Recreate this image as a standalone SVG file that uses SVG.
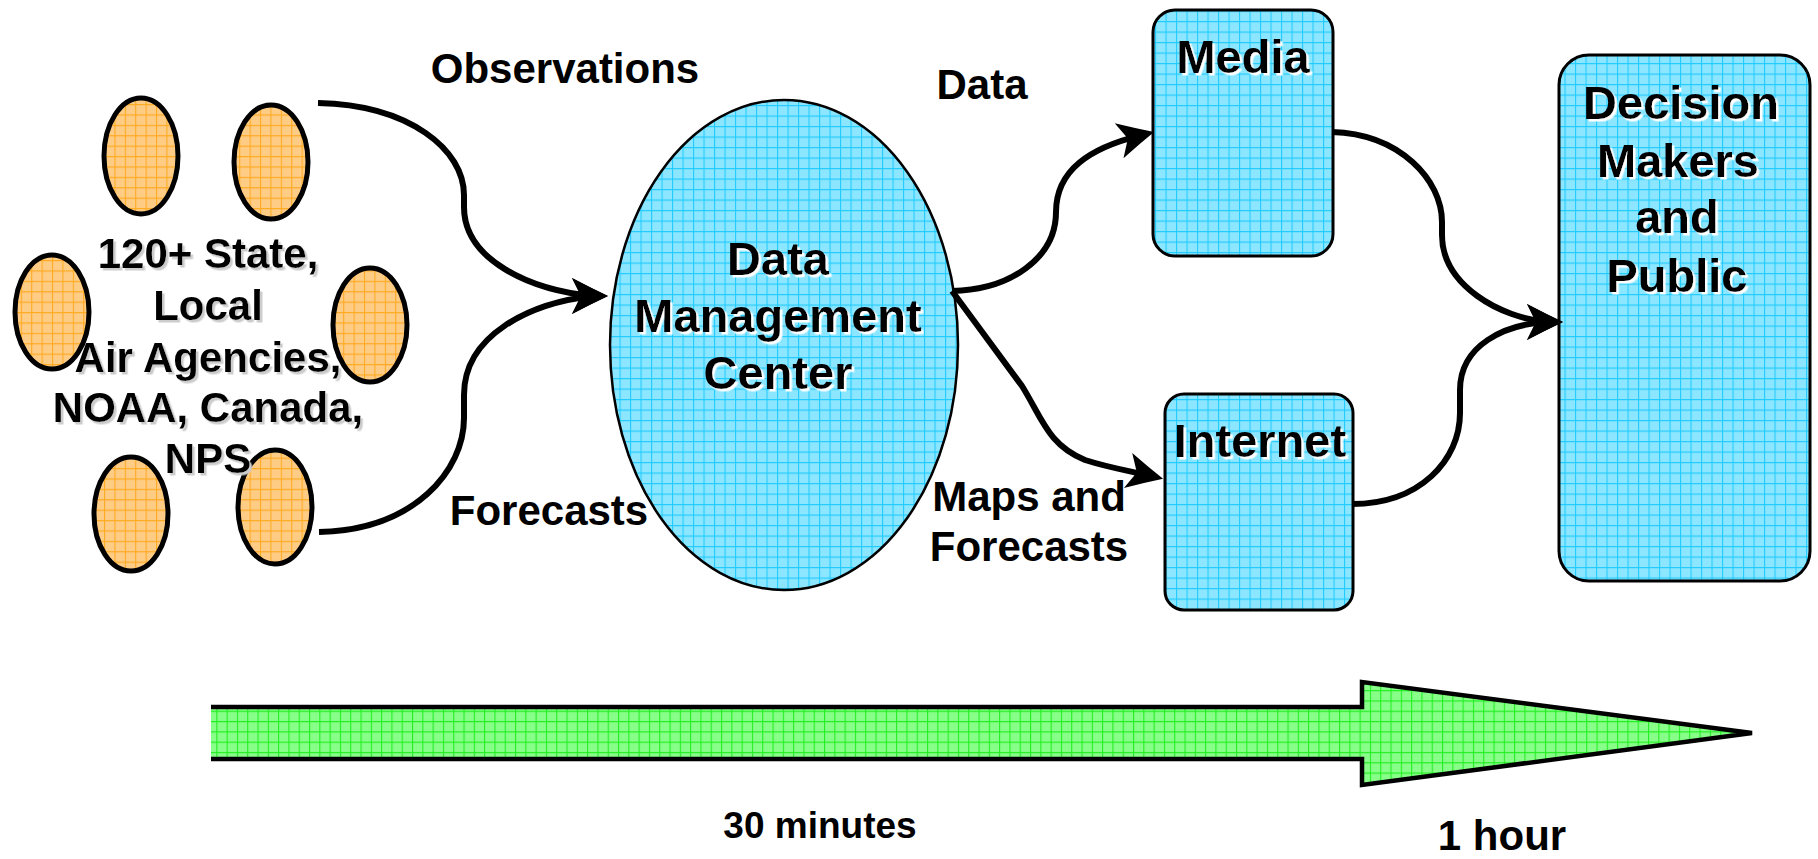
<svg xmlns="http://www.w3.org/2000/svg" width="1818" height="859" viewBox="0 0 1818 859">
<style>
text{font-family:"Liberation Sans",Arial,sans-serif;font-weight:bold;fill:#000;text-anchor:middle}
.lbl{font-size:42px}
.node{font-size:47px;filter:url(#shw)}
.src{font-size:42px;filter:url(#shg)}
.conn{fill:none;stroke:#000;stroke-width:6}
.orange{fill:url(#po);stroke:#000;stroke-width:5}
.blue{fill:url(#pb);stroke:#000;stroke-width:3}
</style>
<defs>
<pattern id="pb" patternUnits="userSpaceOnUse" width="10.5" height="10.5">
<rect width="10.5" height="10.5" fill="#8de6ff"/>
<path d="M0,0.5H10.5M0.5,0V10.5" stroke="#22ccff" stroke-width="1.2"/>
</pattern>
<pattern id="po" patternUnits="userSpaceOnUse" width="10.4" height="10.4">
<rect width="10.4" height="10.4" fill="#ffcc85"/>
<path d="M0,0.5H10.4M0.5,0V10.4" stroke="#ffaa22" stroke-width="1.2"/>
</pattern>
<pattern id="pg" patternUnits="userSpaceOnUse" width="10.3" height="10.3">
<rect width="10.3" height="10.3" fill="#88ff88"/>
<path d="M0,0.5H10.3M0.5,0V10.3" stroke="#22ee22" stroke-width="1.2"/>
</pattern>
<filter id="shw" x="-10%" y="-30%" width="120%" height="160%">
<feDropShadow dx="2.5" dy="2.5" stdDeviation="0" flood-color="#ffffff"/>
</filter>
<filter id="shg" x="-10%" y="-30%" width="120%" height="160%">
<feDropShadow dx="2.5" dy="2.5" stdDeviation="0" flood-color="#cccccc"/>
</filter>
<marker id="ahA" markerUnits="userSpaceOnUse" markerWidth="60" markerHeight="60" viewBox="-30 -30 60 60" refX="0" refY="0" orient="auto" overflow="visible">
<path d="M15,0 Q-2,-8 -21,-18 L-12,0 L-21,18 Q-2,8 15,0 Z" fill="#000"/>
</marker>
<marker id="ahF" markerUnits="userSpaceOnUse" markerWidth="60" markerHeight="60" viewBox="-30 -30 60 60" refX="0" refY="0" orient="0" overflow="visible">
<path d="M15,0 Q-2,-8 -21,-18 L-12,0 L-21,18 Q-2,8 15,0 Z" fill="#000"/>
</marker>
</defs>
<rect width="1818" height="859" fill="#fff"/>

<g id="sources">
<ellipse class="orange" cx="141" cy="156" rx="37" ry="58"/>
<ellipse class="orange" cx="271" cy="162" rx="37" ry="57"/>
<ellipse class="orange" cx="52" cy="312" rx="37" ry="57"/>
<ellipse class="orange" cx="370" cy="325" rx="37" ry="57"/>
<ellipse class="orange" cx="131" cy="514" rx="37" ry="57"/>
<ellipse class="orange" cx="275" cy="507" rx="37" ry="57"/>
<text class="src" x="208" y="268">120+ State,</text>
<text class="src" x="208" y="320">Local</text>
<text class="src" x="208" y="372">Air Agencies,</text>
<text class="src" x="208" y="422">NOAA, Canada,</text>
<text class="src" x="208" y="473">NPS</text>
</g>

<g id="dmc">
<ellipse cx="784" cy="345" rx="174" ry="245" fill="url(#pb)" stroke="#000" stroke-width="2.5"/>
<text class="node" x="778" y="275">Data</text>
<text class="node" x="778" y="332">Management</text>
<text class="node" x="778" y="389">Center</text>
</g>

<g id="media">
<rect class="blue" x="1153" y="10" width="180" height="246" rx="22"/>
<text class="node" x="1243" y="73">Media</text>
</g>

<g id="internet">
<rect class="blue" x="1165" y="394" width="188" height="216" rx="19"/>
<text class="node" x="1260" y="457">Internet</text>
</g>

<g id="decision">
<rect class="blue" x="1559" y="55" width="251" height="526" rx="30"/>
<text class="node" x="1681" y="119">Decision</text>
<text class="node" x="1678" y="177">Makers</text>
<text class="node" x="1677" y="233">and</text>
<text class="node" x="1677" y="292">Public</text>
</g>

<g id="connectors">
<path class="conn" d="M318,103 C410,105 464,150 464,195 L464,207 C464,260 530,290 593,296" marker-end="url(#ahF)"/>
<path class="conn" d="M319,532 C415,530 464,470 464,418 L464,395 C464,335 530,303 593,296" marker-end="url(#ahF)"/>
<path class="conn" d="M952,291 C1010,290 1056,258 1056,212 C1056,170 1090,148 1139.5,135.6" marker-end="url(#ahA)"/>
<path class="conn" d="M952,291 L1022,386 C1042,418 1048,445 1085,460 C1110,468 1130,471 1148.5,475.4" marker-end="url(#ahA)"/>
<path class="conn" d="M1332,132 C1400,134 1442,180 1442,222 L1442,235 C1442,285 1500,318 1548,322" marker-end="url(#ahF)"/>
<path class="conn" d="M1352,504 C1420,504 1460,460 1460,413 L1460,390 C1460,345 1505,324 1548,322" marker-end="url(#ahF)"/>
</g>

<g id="labels">
<text class="lbl" x="565" y="83">Observations</text>
<text class="lbl" x="549" y="525">Forecasts</text>
<text class="lbl" x="982" y="99">Data</text>
<text class="lbl" x="1029" y="511">Maps and</text>
<text class="lbl" x="1029" y="561">Forecasts</text>
</g>

<g id="timeline">
<polygon points="211,707 1362,707 1362,682 1752,733 1362,785 1362,759 211,759" fill="url(#pg)"/>
<polyline points="211,707 1362,707 1362,682 1752,733 1362,785 1362,759 211,759" fill="none" stroke="#000" stroke-width="4.5" stroke-linejoin="miter"/>
<text x="820" y="838" style="font-size:37px">30 minutes</text>
<text x="1502" y="850" style="font-size:42px">1 hour</text>
</g>
</svg>
